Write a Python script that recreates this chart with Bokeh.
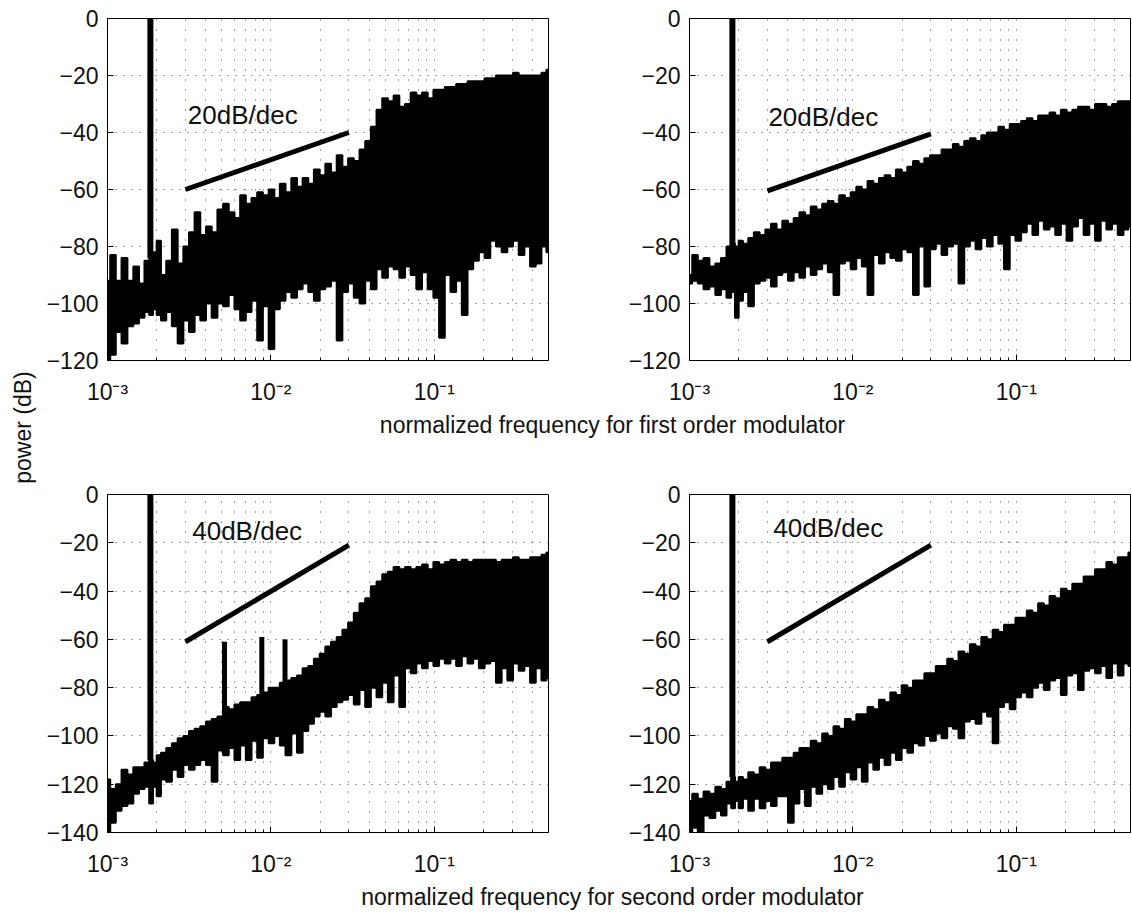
import math
from bokeh.plotting import figure
from bokeh.layouts import row, column
from bokeh.models import FixedTicker, CustomJSTickFormatter, Range1d
from bokeh.core.properties import value
from bokeh.embed import file_html
from bokeh.resources import INLINE

FONT = "Liberation Sans"

# ---------------- data ----------------
freq = [0.00100, 0.00108, 0.00117, 0.00127, 0.00138, 0.00150, 0.00162, 0.00175, 0.00185, 0.00195,
        0.00205, 0.00220, 0.00238, 0.00258, 0.00280, 0.00303, 0.00328, 0.00355, 0.00385, 0.00417,
        0.00452, 0.00490, 0.00530, 0.00575, 0.00623, 0.00675, 0.00731, 0.00792, 0.00858, 0.00930,
        0.0101, 0.0109, 0.0118, 0.0128, 0.0139, 0.0150, 0.0163, 0.0176, 0.0191, 0.0207,
        0.0224, 0.0243, 0.0263, 0.0285, 0.0309, 0.0335, 0.0363, 0.0393, 0.0426, 0.0461,
        0.0500, 0.0541, 0.0587, 0.0636, 0.0689, 0.0746, 0.0808, 0.0876, 0.0949, 0.1028,
        0.1114, 0.1207, 0.1307, 0.1416, 0.1535, 0.1663, 0.1801, 0.1952, 0.2115, 0.2291,
        0.2482, 0.2689, 0.2913, 0.3157, 0.3420, 0.3705, 0.4014, 0.4349, 0.4712, 0.5000]

# first order modulator, top-left panel
tl_hi = [-92, -83, -92, -84, -92, -87, -93, -85, -84, -82,
         -78, -90, -85, -74, -86, -80, -75, -68, -76, -73,
         -75, -67, -65, -68, -70, -62, -65, -63, -61, -62,
         -60, -63, -58, -61, -56, -59, -56, -58, -53, -55,
         -51, -54, -48, -52, -49, -50, -46, -43, -38, -32,
         -28, -29, -27, -31, -30, -26, -27, -26, -28, -25,
         -25, -24, -24, -23, -23, -22, -22, -22, -21, -21,
         -20, -20, -20, -19, -20, -20, -20, -20, -19, -18]
tl_lo = [-120, -118, -110, -114, -108, -107, -105, -103, -104, -102,
         -104, -106, -103, -108, -114, -106, -110, -104, -106, -100,
         -105, -100, -101, -97, -102, -106, -103, -99, -113, -101,
         -116, -102, -99, -96, -98, -95, -93, -96, -99, -95,
         -94, -92, -113, -96, -93, -98, -100, -92, -95, -88,
         -91, -87, -88, -91, -87, -90, -95, -89, -95, -98,
         -112, -90, -96, -92, -104, -88, -85, -82, -84, -78,
         -80, -82, -80, -78, -83, -80, -87, -86, -80, -82]

# first order modulator, top-right panel
tr_hi = [-90, -83, -85, -84, -87, -86, -84, -80, -79, -80,
         -78, -79, -77, -75, -76, -74, -72, -74, -71, -72,
         -70, -68, -69, -66, -67, -65, -64, -65, -62, -63,
         -61, -59, -60, -57, -58, -56, -55, -56, -53, -54,
         -52, -50, -51, -49, -48, -48, -46, -46, -44, -45,
         -43, -42, -43, -41, -40, -40, -38, -39, -37, -37,
         -36, -35, -36, -34, -34, -33, -34, -32, -33, -32,
         -31, -31, -32, -30, -30, -31, -30, -29, -29, -29]
tr_lo = [-93, -92, -93, -95, -94, -97, -95, -98, -96, -105,
         -99, -96, -101, -93, -92, -91, -94, -90, -89, -92,
         -89, -91, -87, -90, -88, -86, -89, -97, -86, -85,
         -88, -84, -87, -97, -83, -86, -82, -84, -85, -81,
         -82, -97, -80, -94, -81, -79, -83, -80, -79, -93,
         -80, -78, -81, -77, -80, -76, -79, -88, -76, -78,
         -75, -72, -76, -71, -74, -73, -76, -72, -78, -73,
         -70, -76, -72, -78, -71, -74, -72, -76, -74, -73]

# second order modulator, bottom-left panel
bl_hi = [-118, -122, -120, -114, -116, -113, -113, -111, -110, -111,
         -108, -107, -105, -103, -101, -100, -98, -97, -96, -94,
         -93, -92, -88, -89, -87, -86, -86, -84, -83, -82,
         -80, -80, -78, -77, -76, -75, -72, -71, -68, -66,
         -63, -61, -59, -56, -53, -49, -45, -43, -38, -36,
         -33, -32, -30, -31, -30, -31, -30, -29, -31, -28,
         -29, -28, -27, -28, -27, -28, -27, -27, -27, -27,
         -28, -27, -27, -26, -27, -27, -26, -26, -25, -24]
bl_lo = [-140, -136, -131, -129, -128, -124, -122, -121, -128, -121,
         -125, -118, -119, -114, -117, -112, -114, -112, -110, -112,
         -119, -106, -108, -105, -110, -104, -110, -102, -109, -101,
         -103, -100, -104, -108, -99, -107, -98, -95, -92, -90,
         -92, -88, -86, -85, -83, -87, -81, -88, -80, -84,
         -78, -86, -75, -88, -72, -74, -70, -72, -69, -71,
         -68, -70, -68, -71, -67, -70, -68, -72, -70, -69,
         -78, -72, -77, -70, -73, -71, -78, -72, -77, -76]

# second order modulator, bottom-right panel
br_hi = [-127, -124, -126, -123, -124, -121, -122, -119, -117, -119,
         -117, -118, -115, -116, -113, -114, -111, -111, -109, -109,
         -107, -105, -105, -102, -103, -99, -100, -96, -97, -93,
         -94, -91, -91, -88, -89, -85, -86, -82, -83, -79,
         -80, -77, -77, -74, -74, -71, -71, -68, -69, -65,
         -66, -62, -63, -59, -60, -56, -57, -54, -54, -51,
         -51, -48, -49, -45, -46, -42, -43, -39, -40, -37,
         -37, -34, -34, -31, -31, -28, -29, -26, -26, -24]
br_lo = [-140, -138, -140, -133, -134, -131, -133, -128, -130, -127,
         -130, -126, -131, -126, -130, -127, -129, -125, -125, -136,
         -128, -122, -129, -121, -124, -120, -122, -117, -121, -115,
         -118, -113, -119, -111, -114, -109, -112, -107, -110, -105,
         -107, -103, -104, -100, -102, -99, -101, -96, -97, -101,
         -94, -93, -95, -90, -92, -103, -88, -86, -89, -84,
         -82, -84, -80, -78, -81, -77, -76, -83, -75, -74,
         -81, -73, -72, -74, -71, -76, -70, -75, -70, -71]

# input tone (same frequency in all panels)
tone_freq = 0.00183
tone_peak = [0, 0, 0, 0]            # TL, TR, BL, BR
tone_base = [-84, -80, -110, -117]

# harmonic spurs in bottom-left panel
spur_freq_bl = [0.0052, 0.0088, 0.0122]
spur_peak_bl = [-61, -59, -60]
spur_base_bl = [-90, -84, -79]

# slope reference lines
slope_freq = [0.003, 0.03]
slope_tl = [-60, -40]
slope_tr = [-60.5, -40.5]
slope_bl = [-61, -21]
slope_br = [-61, -21]
slope_labels = ["20dB/dec", "20dB/dec", "40dB/dec", "40dB/dec"]

x_major = [0.001, 0.01, 0.1]
x_minor = [0.002, 0.003, 0.004, 0.005, 0.006, 0.007, 0.008, 0.009,
           0.02, 0.03, 0.04, 0.05, 0.06, 0.07, 0.08, 0.09,
           0.2, 0.3, 0.4, 0.5]
y_ticks_top = [-120, -100, -80, -60, -40, -20, 0]
y_ticks_bottom = [-140, -120, -100, -80, -60, -40, -20, 0]

xlabel_top = "normalized frequency for first order modulator"
xlabel_bottom = "normalized frequency for second order modulator"
ylabel = "power (dB)"

# ---------------- drawing ----------------
X_FMT = CustomJSTickFormatter(code="""
const e = Math.round(Math.log10(tick));
const m = {"-": "\\u207b", "0": "\\u2070", "1": "\\u00b9", "2": "\\u00b2", "3": "\\u00b3", "4": "\\u2074"};
let s = "";
for (const c of String(e)) { s += m[c]; }
return "10" + s;
""")
Y_FMT = CustomJSTickFormatter(code='return tick < 0 ? "\\u2212" + Math.abs(tick) : String(tick);')


def panel(hi, lo, ymin, yticks, tbase, tpeak, sy, stext, tx, ty,
          w, h, bl, br, bt, bb, spurs=None):
    p = figure(width=w, height=h, x_axis_type="log", title=None,
               x_range=Range1d(1e-3, 0.5), y_range=Range1d(ymin, 0),
               output_backend="svg", toolbar_location=None,
               min_border_left=bl, min_border_right=br,
               min_border_top=bt, min_border_bottom=bb)
    p.background_fill_color = "white"
    p.border_fill_color = "white"
    p.outline_line_color = "black"
    p.outline_line_width = 1
    p.outline_line_alpha = 1.0

    xt = FixedTicker(ticks=x_major, minor_ticks=x_minor)
    yt = FixedTicker(ticks=yticks, minor_ticks=[])
    p.xaxis.ticker = xt
    p.yaxis.ticker = yt
    p.xgrid.ticker = xt
    p.ygrid.ticker = yt
    p.xaxis.formatter = X_FMT
    p.yaxis.formatter = Y_FMT

    for ax in (p.xaxis[0], p.yaxis[0]):
        ax.axis_line_color = "black"
        ax.major_tick_in = 6
        ax.major_tick_out = 0
        ax.minor_tick_in = 3
        ax.minor_tick_out = 0
        ax.major_tick_line_color = "black"
        ax.minor_tick_line_color = "black"
        ax.major_label_text_font = FONT
        ax.major_label_text_font_size = "23px"
        ax.major_label_text_color = "#111111"
    p.xaxis.major_label_standoff = 18
    p.yaxis.major_label_standoff = 9

    p.xgrid.grid_line_color = "#444444"
    p.xgrid.grid_line_dash = "1 9"
    p.xgrid.minor_grid_line_color = "#444444"
    p.xgrid.minor_grid_line_dash = "1 9"
    p.ygrid.grid_line_color = "#444444"
    p.ygrid.grid_line_dash = "1 7"

    if hasattr(p, "varea_step"):
        p.varea_step(x=freq, y1=lo, y2=hi, step_mode="center", fill_color="black")
    else:
        xs, ys_top, ys_bot = [], [], []
        for i, f in enumerate(freq):
            a = math.sqrt(freq[i - 1] * f) if i > 0 else f
            b = math.sqrt(freq[i + 1] * f) if i < len(freq) - 1 else f
            xs += [a, b]
            ys_top += [hi[i], hi[i]]
            ys_bot += [lo[i], lo[i]]
        p.patch(xs + xs[::-1], ys_top + ys_bot[::-1], color="black")
    p.step(x=freq, y=hi, mode="center", line_color="black", line_width=2)
    p.step(x=freq, y=lo, mode="center", line_color="black", line_width=2)

    p.segment(x0=[tone_freq], y0=[tbase], x1=[tone_freq], y1=[tpeak],
              line_color="black", line_width=6)
    if spurs is not None:
        sf, sp, sb = spurs
        p.segment(x0=sf, y0=sb, x1=sf, y1=sp, line_color="black", line_width=5)

    p.line(slope_freq, sy, line_color="black", line_width=5)
    p.text(x=[tx], y=[ty], text=[stext], text_font=value(FONT),
           text_font_size="26px", text_baseline="middle", text_align="left",
           text_color="#111111")
    return p


def text_fig(w, h, x, y, txt, angle=0.0, align="center", baseline="middle"):
    p = figure(width=w, height=h, x_range=Range1d(0, w), y_range=Range1d(0, h),
               x_axis_type=None, y_axis_type=None, output_backend="svg", title=None,
               toolbar_location=None, min_border=0, min_border_left=0,
               min_border_right=0, min_border_top=0, min_border_bottom=0)
    p.outline_line_color = None
    p.grid.visible = False
    p.background_fill_color = "white"
    p.border_fill_color = "white"
    p.text(x=[x], y=[y], text=[txt], angle=angle, text_font=value(FONT),
           text_font_size="23px", text_align=align, text_baseline=baseline,
           text_color="#111111")
    return p


p_tl = panel(tl_hi, tl_lo, -120, y_ticks_top, tone_base[0], tone_peak[0],
             slope_tl, slope_labels[0], 0.0031, -34,
             530, 408, 69, 20, 18, 48)
p_tr = panel(tr_hi, tr_lo, -120, y_ticks_top, tone_base[1], tone_peak[1],
             slope_tr, slope_labels[1], 0.00304, -34.5,
             563, 408, 121, 1, 18, 48)
p_bl = panel(bl_hi, bl_lo, -140, y_ticks_bottom, tone_base[2], tone_peak[2],
             slope_bl, slope_labels[2], 0.0033, -15,
             530, 440, 69, 20, 54, 48,
             spurs=(spur_freq_bl, spur_peak_bl, spur_base_bl))
p_br = panel(br_hi, br_lo, -140, y_ticks_bottom, tone_base[3], tone_peak[3],
             slope_br, slope_labels[3], 0.00326, -14,
             563, 440, 121, 1, 54, 48)

xl1 = text_fig(1093, 32, 574, 16, xlabel_top)
xl2 = text_fig(1093, 30, 574, 14, xlabel_bottom)
yl = text_fig(38, 910, 22, 483, ylabel, angle=math.pi / 2)

layout = row(yl, column(row(p_tl, p_tr), xl1, row(p_bl, p_br), xl2))

open("out.html", "w", encoding="utf-8").write(file_html(layout, INLINE))
